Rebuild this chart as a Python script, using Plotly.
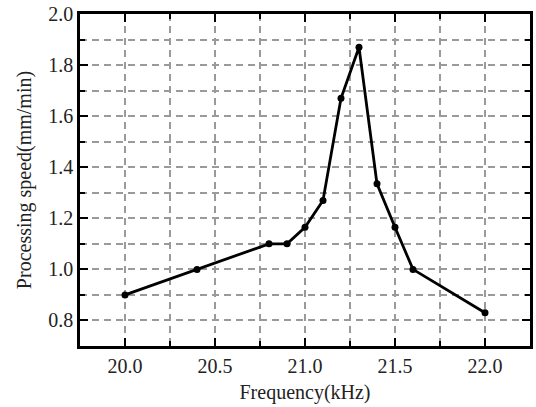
import plotly.graph_objects as go

freq = [20.0, 20.4, 20.8, 20.9, 21.0, 21.1, 21.2, 21.3, 21.4, 21.5, 21.6, 22.0]
speed = [0.90, 1.00, 1.10, 1.10, 1.165, 1.27, 1.67, 1.87, 1.335, 1.165, 1.00, 0.83]

x_ticks = [20.0, 20.5, 21.0, 21.5, 22.0]
x_tick_labels = ["20.0", "20.5", "21.0", "21.5", "22.0"]
y_ticks = [0.8, 1.0, 1.2, 1.4, 1.6, 1.8, 2.0]
y_tick_labels = ["0.8", "1.0", "1.2", "1.4", "1.6", "1.8", "2.0"]

FONT = "Liberation Serif, Times New Roman, serif"
GRID = "#9a9a9a"
DASH = "7px,5px"

fig = go.Figure()
fig.add_trace(go.Scatter(
    x=freq, y=speed, mode="lines+markers",
    line=dict(color="black", width=2.8),
    marker=dict(color="black", size=7),
    showlegend=False,
))

axis_common = dict(
    showline=True, linecolor="black", linewidth=2.5, mirror="allticks",
    ticks="inside", tickcolor="black", tickwidth=2, ticklen=8,
    showgrid=True, gridcolor=GRID, gridwidth=1.5, griddash=DASH,
    zeroline=False,
    tickfont=dict(family=FONT, size=20, color="#222"),
)

fig.update_xaxes(
    range=[19.75, 22.25], tickmode="array", tickvals=x_ticks, ticktext=x_tick_labels,
    minor=dict(dtick=0.25, tick0=20.0, ticks="inside", ticklen=5, tickcolor="black", tickwidth=2,
               showgrid=True, gridcolor=GRID, gridwidth=1.5, griddash=DASH),
    title=dict(text="Frequency(kHz)", font=dict(family=FONT, size=20, color="#222"), standoff=10),
    **axis_common,
)
fig.update_yaxes(
    range=[0.7, 2.0], tickmode="array", tickvals=y_ticks, ticktext=y_tick_labels,
    minor=dict(dtick=0.1, tick0=0.7, ticks="inside", ticklen=5, tickcolor="black", tickwidth=2,
               showgrid=True, gridcolor=GRID, gridwidth=1.5, griddash=DASH),
    title=dict(text="Processing speed(mm/min)", font=dict(family=FONT, size=20, color="#222"), standoff=12),
    **axis_common,
)

fig.update_layout(
    width=536, height=407,
    margin=dict(l=80, r=3, t=13, b=61),
    plot_bgcolor="white", paper_bgcolor="white",
    font=dict(family=FONT),
)

fig.write_html("out.html")
